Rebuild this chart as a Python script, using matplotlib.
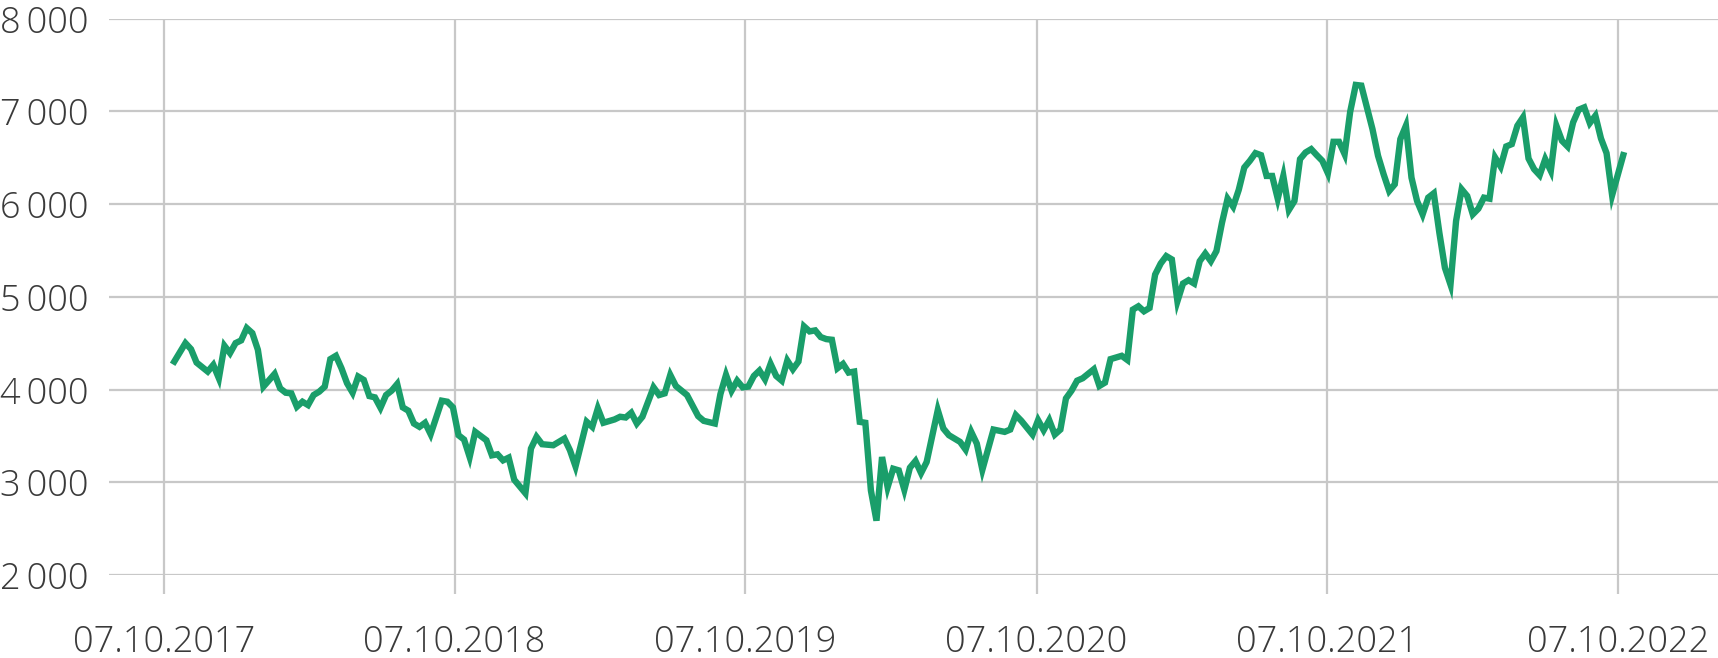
import numpy as np
import pandas as pd
import matplotlib
matplotlib.use("Agg")
import matplotlib.pyplot as plt
from matplotlib import font_manager

# ------------------ data ------------------
START = "2017-10-20"  # first weekly point

WEEK = [
    0, 2, 3, 4, 6, 7, 8, 9, 10, 11, 12, 13, 14, 15, 16, 18, 19, 20, 21, 22,
    23, 24, 25, 26, 27, 28, 29, 30, 31, 32, 33, 34, 35, 36, 37, 38, 39, 40, 41, 42,
    43, 44, 45, 46, 48, 49, 50, 51, 52, 53, 54, 56, 57, 58, 59, 60, 61, 63, 64, 65,
    66, 68, 69, 70, 71, 72, 74, 75, 76, 77, 79, 80, 81, 82, 83, 84, 86, 87, 88, 89,
    90, 92, 94, 95, 97, 98, 99, 100, 101, 102, 103, 104, 105, 106, 107, 108, 109, 110, 111, 112,
    113, 114, 115, 116, 117, 118, 119, 120, 121, 122, 123, 124, 125, 126, 127, 128, 129, 130, 131, 132,
    133, 134, 135, 137, 138, 139, 141, 142, 143, 144, 145, 147, 149, 150, 151, 152, 154, 155, 156, 157,
    158, 159, 160, 161, 162, 163, 165, 166, 167, 168, 170, 171, 172, 173, 174, 175, 176, 177, 178, 179,
    180, 181, 182, 183, 184, 185, 186, 187, 188, 189, 190, 191, 192, 193, 194, 195, 196, 197, 198, 199,
    200, 201, 202, 203, 204, 205, 206, 207, 208, 209, 210, 211, 212, 213, 214, 215, 216, 217, 218, 219,
    220, 221, 222, 223, 224, 225, 226, 227, 228, 229, 230, 231, 232, 233, 234, 235, 236, 237, 238, 239,
    240, 241, 242, 243, 244, 245, 246, 247, 248, 249, 250, 251, 252, 253, 254, 255, 256, 257, 258, 260,
]

VALUE = [
    4303, 4502, 4437, 4292, 4195, 4267, 4123, 4473, 4394, 4502, 4531, 4664, 4610, 4430, 4033, 4170, 4014, 3967, 3960, 3816,
    3870, 3834, 3942, 3978, 4033, 4329, 4365, 4231, 4069, 3967, 4141, 4105, 3931, 3917, 3805, 3942, 3989, 4061, 3809, 3773,
    3635, 3599, 3643, 3520, 3881, 3870, 3809, 3509, 3462, 3274, 3545, 3455, 3292, 3303, 3238, 3267, 3029, 2884, 3365, 3491,
    3412, 3401, 3437, 3473, 3347, 3173, 3654, 3599, 3798, 3643, 3679, 3708, 3700, 3751, 3635, 3708, 4025, 3942, 3960, 4159,
    4040, 3942, 3715, 3664, 3635, 3953, 4159, 3989, 4097, 4025, 4033, 4148, 4206, 4112, 4278, 4148, 4097, 4314, 4220, 4303,
    4682, 4628, 4639, 4567, 4545, 4538, 4231, 4278, 4184, 4195, 3653, 3643, 2913, 2588, 3274, 2949, 3148, 3130, 2921, 3159,
    3231, 3101, 3220, 3780, 3581, 3509, 3437, 3354, 3545, 3419, 3137, 3570, 3545, 3570, 3726, 3664, 3516, 3671, 3563, 3671,
    3516, 3570, 3906, 3989, 4097, 4123, 4220, 4040, 4076, 4329, 4365, 4321, 4863, 4899, 4845, 4881, 5241, 5360, 5440, 5404,
    4953, 5144, 5180, 5144, 5385, 5468, 5385, 5494, 5800, 6059, 5973, 6153, 6395, 6467, 6550, 6528, 6304, 6304, 6059, 6304,
    5937, 6034, 6485, 6557, 6593, 6528, 6467, 6333, 6672, 6672, 6539, 6996, 7285, 7278, 7043, 6809, 6521, 6322, 6142, 6214,
    6701, 6845, 6286, 6034, 5890, 6070, 6117, 5692, 5313, 5133, 5818, 6160, 6088, 5890, 5951, 6070, 6059, 6503, 6405, 6622,
    6647, 6845, 6935, 6492, 6377, 6312, 6485, 6359, 6845, 6683, 6622, 6881, 7018, 7043, 6874, 6953, 6708, 6550, 6096, 6528,
]

X_TICKS = ["2017-10-07", "2018-10-07", "2019-10-07", "2020-10-07", "2021-10-07", "2022-10-07"]
X_TICK_LABELS = ["07.10.2017", "07.10.2018", "07.10.2019", "07.10.2020", "07.10.2021", "07.10.2022"]
Y_TICKS = [2000, 3000, 4000, 5000, 6000, 7000, 8000]
Y_TICK_LABELS = ["2\u2006000", "3\u2006000", "4\u2006000", "5\u2006000", "6\u2006000", "7\u2006000", "8\u2006000"]

# ------------------ style ------------------
LINE_COLOR = "#1a9e6a"
GRID_COLOR = "#c8c8c8"
TEXT_COLOR = "#3a3a3a"


def pick_light_font():
    # 找一个真正带 Light 字重的字体，没有就退回 Noto Sans CJK SC
    for fam in ["Noto Sans CJK SC", "Open Sans", "Roboto", "Lato", "Inter"]:
        try:
            path = font_manager.findfont(
                font_manager.FontProperties(family=fam, weight="light"),
                fallback_to_default=False)
        except Exception:
            continue
        if "light" in path.lower():
            return fam
    return "Noto Sans CJK SC"


FONT = pick_light_font()
plt.rcParams["font.family"] = [FONT, "DejaVu Sans"]

dates = pd.Timestamp(START) + pd.to_timedelta(np.array(WEEK) * 7, unit="D")

fig = plt.figure(figsize=(17.18, 6.58), dpi=100)
W, H = 1718, 658
left, right, top, bottom = 109, 1718, 18.6, 575.2
ax = fig.add_axes([left / W, (H - bottom) / H, (right - left) / W, (bottom - top) / H])

ax.plot(dates, VALUE, color=LINE_COLOR, linewidth=4.6, solid_joinstyle="miter", zorder=3)

ax.set_xlim(pd.Timestamp("2017-07-30"), pd.Timestamp("2023-02-10"))
ax.set_ylim(2000, 8000)

ax.set_xticks(pd.to_datetime(X_TICKS))
ax.set_xticklabels(X_TICK_LABELS)
ax.set_yticks(Y_TICKS)
ax.set_yticklabels(Y_TICK_LABELS)

for s in ax.spines.values():
    s.set_visible(False)

ax.grid(True, color=GRID_COLOR, linewidth=1.6, zorder=0)
ax.set_axisbelow(True)

ax.tick_params(axis="x", direction="out", length=14, width=1.6, color=GRID_COLOR,
               pad=21, labelsize=26, labelcolor=TEXT_COLOR)
ax.tick_params(axis="y", length=0, pad=15, labelsize=26, labelcolor=TEXT_COLOR)
for lab in ax.get_xticklabels() + ax.get_yticklabels():
    lab.set_fontweight("light")

fig.savefig("out.png", dpi=100)
